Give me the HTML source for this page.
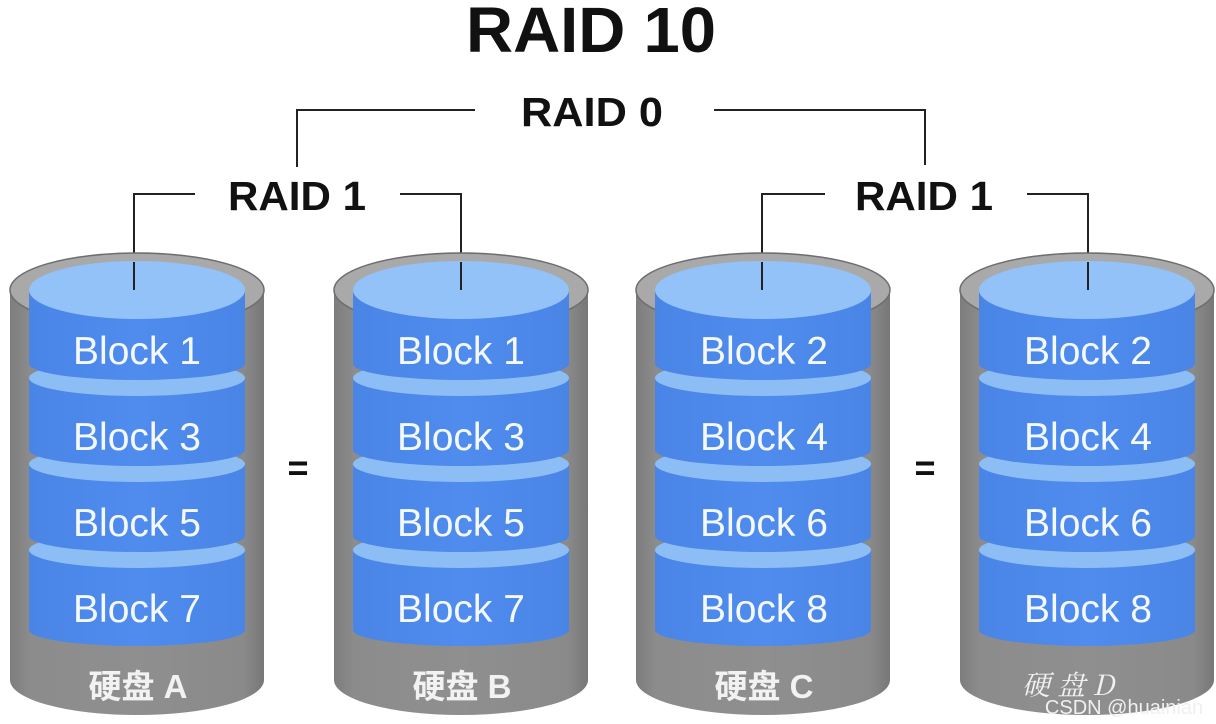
<!DOCTYPE html>
<html><head><meta charset="utf-8"><style>
html,body{margin:0;padding:0;background:#fff;}
svg{display:block}
</style></head><body>
<svg width="1216" height="724" viewBox="0 0 1216 724" xmlns="http://www.w3.org/2000/svg" font-family="Liberation Sans, Arial, sans-serif">
<defs>
<linearGradient id="gray" x1="0" x2="1" y1="0" y2="0">
<stop offset="0" stop-color="#7d7d7d"/><stop offset="0.08" stop-color="#8c8c8c"/><stop offset="0.5" stop-color="#8f8f8f"/><stop offset="0.92" stop-color="#8a8a8a"/><stop offset="1" stop-color="#777"/>
</linearGradient>
<linearGradient id="blue" x1="0" x2="1" y1="0" y2="0">
<stop offset="0" stop-color="#4a85e6"/><stop offset="0.5" stop-color="#4f8cee"/><stop offset="1" stop-color="#4a85e6"/>
</linearGradient>
<g id="cyl">
  <rect x="-127" y="290" width="254" height="390" fill="url(#gray)"/>
  <ellipse cx="0" cy="680" rx="127" ry="35" fill="url(#gray)"/>
  <ellipse cx="0" cy="290" rx="127" ry="37" fill="#a9a9a9" stroke="#6e6e6e" stroke-width="1.5"/>
  <g>
    <rect x="-108" y="550" width="216" height="80" fill="url(#blue)"/>
    <ellipse cx="0" cy="630" rx="108" ry="16" fill="url(#blue)"/>
    <ellipse cx="0" cy="550" rx="108" ry="18" fill="#8dbdf5"/>
  </g>
  <g>
    <rect x="-108" y="464" width="216" height="72" fill="url(#blue)"/>
    <ellipse cx="0" cy="536" rx="108" ry="16" fill="url(#blue)"/>
    <ellipse cx="0" cy="464" rx="108" ry="18" fill="#8dbdf5"/>
  </g>
  <g>
    <rect x="-108" y="378" width="216" height="72" fill="url(#blue)"/>
    <ellipse cx="0" cy="450" rx="108" ry="16" fill="url(#blue)"/>
    <ellipse cx="0" cy="378" rx="108" ry="18" fill="#8dbdf5"/>
  </g>
  <g>
    <rect x="-108" y="290" width="216" height="74" fill="url(#blue)"/>
    <ellipse cx="0" cy="364" rx="108" ry="16" fill="url(#blue)"/>
    <ellipse cx="0" cy="290" rx="108" ry="29" fill="#92c2f7"/>
  </g>
</g>
</defs>

<text x="591" y="52" font-size="64" font-weight="bold" text-anchor="middle" fill="#111" textLength="250" lengthAdjust="spacingAndGlyphs">RAID 10</text>
<text x="592" y="126" font-size="41" font-weight="bold" text-anchor="middle" fill="#111" textLength="142" lengthAdjust="spacingAndGlyphs">RAID 0</text>
<text x="297" y="210" font-size="41" font-weight="bold" text-anchor="middle" fill="#111" textLength="138" lengthAdjust="spacingAndGlyphs">RAID 1</text>
<text x="924" y="210" font-size="41" font-weight="bold" text-anchor="middle" fill="#111" textLength="138" lengthAdjust="spacingAndGlyphs">RAID 1</text>

<g stroke="#222" stroke-width="2" fill="none">
<polyline points="475,110 297,110 297,167"/>
<polyline points="714,110 925,110 925,165"/>
<polyline points="195,194 134,194 134,290"/>
<polyline points="400,194 461,194 461,290"/>
<polyline points="825,194 762,194 762,290"/>
<polyline points="1027,194 1088,194 1088,290"/>
</g>

<use href="#cyl" x="137" y="0"/>
<use href="#cyl" x="461" y="0"/>
<use href="#cyl" x="763" y="0"/>
<use href="#cyl" x="1087" y="0"/>
<g stroke="#222" stroke-width="2">
<line x1="134" y1="262" x2="134" y2="290"/>
<line x1="461" y1="262" x2="461" y2="290"/>
<line x1="762" y1="262" x2="762" y2="290"/>
<line x1="1088" y1="262" x2="1088" y2="290"/>
</g>

<g font-size="39" fill="#f4f8ff" text-anchor="middle">
<text x="137" y="364">Block 1</text><text x="137" y="450">Block 3</text><text x="137" y="536">Block 5</text><text x="137" y="622">Block 7</text>
<text x="461" y="364">Block 1</text><text x="461" y="450">Block 3</text><text x="461" y="536">Block 5</text><text x="461" y="622">Block 7</text>
<text x="764" y="364">Block 2</text><text x="764" y="450">Block 4</text><text x="764" y="536">Block 6</text><text x="764" y="622">Block 8</text>
<text x="1088" y="364">Block 2</text><text x="1088" y="450">Block 4</text><text x="1088" y="536">Block 6</text><text x="1088" y="622">Block 8</text>
</g>

<g font-size="36" font-weight="bold" fill="#111" text-anchor="middle">
<text x="298" y="480">=</text><text x="925" y="480">=</text>
</g>

<g font-size="33" font-weight="bold" fill="#f2f2f2" text-anchor="middle" font-family="Liberation Sans, Noto Sans CJK SC, sans-serif">
<text x="138" y="698">硬盘 A</text>
<text x="462" y="698">硬盘 B</text>
<text x="764" y="698">硬盘 C</text>
</g>
<text x="1068" y="695" font-size="28" fill="#f2f2f2" text-anchor="middle" font-style="italic" font-family="Noto Serif CJK SC, sans-serif">硬 盘 D</text>
<text x="1124" y="714" font-size="20" fill="#f0f0f0" text-anchor="middle" font-family="Liberation Sans, sans-serif">CSDN @huainian</text>
</svg>
</body></html>
